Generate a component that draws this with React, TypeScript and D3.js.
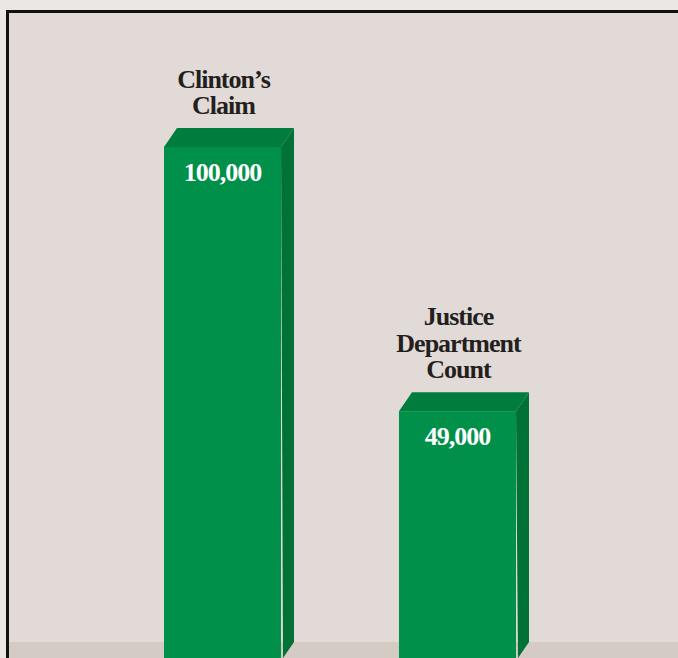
import React from "react";
import * as d3 from "d3";

const categories = ["Clinton’s Claim", "Justice Department Count"];
const labelLines = [["Clinton’s", "Claim"], ["Justice", "Department", "Count"]];
const values = [100000, 49000];
const valueLabels = ["100,000", "49,000"];

const W = 678;
const H = 658;

export default function App() {
  const x = d3.scaleBand<string>().domain(categories).range([164, 516]).paddingInner(0.502).paddingOuter(0);
  const y = d3.scaleLinear().domain([0, 100000]).range([665, 147]);
  const depthX = 13;
  const depthY = 19;
  const floorY = 642;
  const font = "'Liberation Serif', 'Times New Roman', serif";

  return (
    <svg width={W} height={H} style={{ position: "absolute", left: 0, top: 0 }} xmlns="http://www.w3.org/2000/svg">
      <rect x={0} y={0} width={W} height={H} fill="#ebe7e4" />
      <rect x={7.5} y={11.5} width={W + 20} height={H + 20} fill="#e2dad7" stroke="#111" strokeWidth={3} />
      <rect x={9} y={floorY} width={W} height={H - floorY} fill="#d4cbc5" />
      {categories.map((c, i) => {
        const x0 = x(c)!;
        const bw = x.bandwidth();
        const yt = y(values[i]);
        const yb = y(0);
        const cx = x0 + bw / 2 + 1;
        const lines = labelLines[i];
        const lh = 26.5;
        const firstBase = yt - depthY - 14 - (lines.length - 1) * lh;
        return (
          <g key={c}>
            <polygon
              points={`${x0 + bw},${yt} ${x0 + bw + depthX},${yt - depthY} ${x0 + bw + depthX},${floorY} ${x0 + bw + 2},${H}`}
              fill="#007236"
            />
            <polygon
              points={`${x0},${yt} ${x0 + depthX},${yt - depthY} ${x0 + bw + depthX},${yt - depthY} ${x0 + bw},${yt}`}
              fill="#007d3d"
            />
            <rect x={x0} y={yt} width={bw} height={yb - yt} fill="#00904a" />
            <text x={x0 + bw / 2} y={yt + 34} textAnchor="middle" fill="#fff" fontFamily={font} fontWeight="bold" fontSize={26} letterSpacing={-1}>
              {valueLabels[i]}
            </text>
            {lines.map((l, j) => (
              <text key={j} x={cx} y={firstBase + j * lh} textAnchor="middle" fill="#231f20" fontFamily={font} fontWeight="bold" fontSize={26} letterSpacing={-1}>
                {l}
              </text>
            ))}
          </g>
        );
      })}
    </svg>
  );
}
